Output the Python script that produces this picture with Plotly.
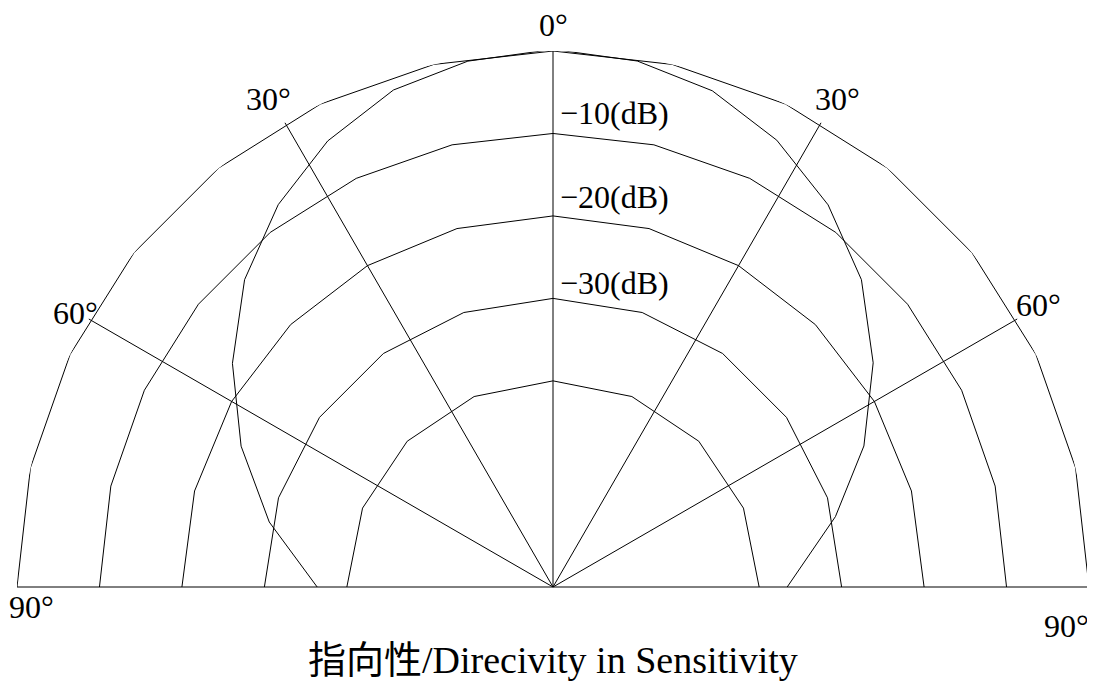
import numpy as np
import plotly.graph_objects as go

# Directivity pattern (angle in degrees, 0 = on axis; level in dB)
pattern_theta = [-90, -77.1, -65.7, -55.1, -45.1, -35.7, -26.8, -17.8, -9.2, 0,
                 9.1, 17.8, 26.6, 35.75, 45.1, 55, 65.6, 76, 90]
pattern_db = [-36.4, -29.7, -23.5, -17.6, -12.2, -7.9, -4.4, -1.7, -0.4, 0.2,
              -0.4, -1.8, -4.4, -7.9, -12.2, -17.6, -23.6, -29.7, -36.6]

# grid rings (dB) and how many straight segments each ring is drawn with
ring_db = [0, -10, -20, -30, -40]
ring_segments = [14, 14, 12, 10, 8]
ring_labels = ["", "−10(dB)", "−20(dB)", "−30(dB)", ""]

spoke_angles = [-90, -60, -30, 0, 30, 60, 90]
r_center = -65

# page has an 8px body margin, so the figure is a bit smaller than the window
OFF = 8
W, H = 1095 - OFF, 690 - OFF
ML, MR, MT, MB = 17 - OFF, 6, 51 - OFF, 103


def paper_x(px):
    return (px - OFF - ML) / (W - ML - MR)


def paper_y(py):
    return (H - MB - (py - OFF)) / (H - MT - MB)


fig = go.Figure()

# polygonal rings
for db, nseg in zip(ring_db, ring_segments):
    th = np.linspace(-90, 90, nseg + 1)
    fig.add_trace(go.Scatterpolar(r=[db] * len(th), theta=th, mode="lines",
                                  line=dict(color="black", width=1),
                                  cliponaxis=False, hoverinfo="skip"))

# measured curve
fig.add_trace(go.Scatterpolar(r=pattern_db, theta=pattern_theta, mode="lines",
                              line=dict(color="black", width=1),
                              cliponaxis=False, name="Sensitivity"))

font = dict(family="Liberation Serif, Noto Sans CJK JP", size=32, color="black")

# angle labels (text, pixel position in the window)
angle_labels = [("0°", 553, 25), ("30°", 268, 99), ("30°", 837, 99),
                ("60°", 75, 313), ("60°", 1038, 305),
                ("90°", 31, 607), ("90°", 1066, 626)]
annotations = []
for txt, x, y in angle_labels:
    annotations.append(dict(text=txt, x=paper_x(x), y=paper_y(y), xref="paper", yref="paper",
                            showarrow=False, xanchor="center", yanchor="middle",
                            borderpad=0, font=font))

# dB labels next to the 0° spoke
label_y = [None, 113, 197, 283, None]
for txt, y in zip(ring_labels, label_y):
    if txt:
        annotations.append(dict(text=txt, x=paper_x(558), y=paper_y(y), xref="paper", yref="paper",
                                showarrow=False, xanchor="left", yanchor="middle", font=font))

annotations.append(dict(text="指向性/Direcivity in Sensitivity", x=paper_x(553), y=paper_y(660),
                        xref="paper", yref="paper", showarrow=False,
                        xanchor="center", yanchor="middle",
                        font=dict(family="Liberation Serif, Noto Sans CJK JP", size=38, color="black")))

fig.update_layout(
    width=W, height=H,
    margin=dict(l=ML, r=MR, t=MT, b=MB),
    paper_bgcolor="white",
    showlegend=False,
    annotations=annotations,
    polar=dict(
        sector=[0, 180],
        bgcolor="white",
        domain=dict(x=[0, 1], y=[0, 1]),
        radialaxis=dict(range=[r_center, 0], visible=False),
        angularaxis=dict(rotation=90, direction="clockwise", tickmode="array",
                         tickvals=spoke_angles, showgrid=True, gridcolor="black",
                         gridwidth=1, showline=False, showticklabels=False, ticks=""),
    ),
)

fig.write_html("out.html")
